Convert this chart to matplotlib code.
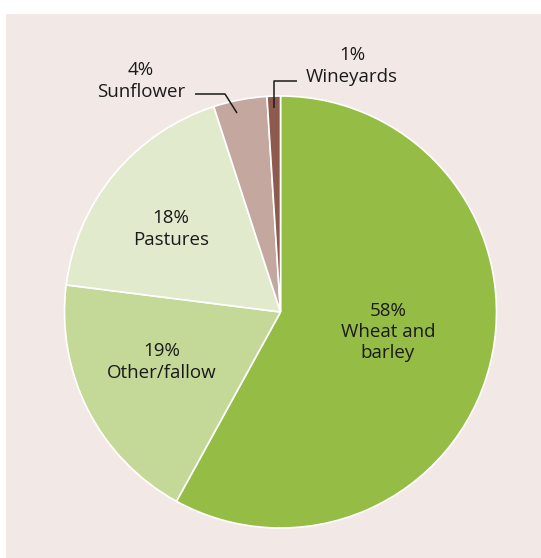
import matplotlib
matplotlib.use("Agg")
import matplotlib.pyplot as plt
from matplotlib.patches import Rectangle

categories = ["Wheat and\nbarley", "Other/fallow", "Pastures", "Sunflower", "Wineyards"]
values = [58, 19, 18, 4, 1]
colors = ["#95bd45", "#c4d897", "#e2eacd", "#c4a8a0", "#8f5a4e"]

W, H = 541, 558
plt.rcParams['font.family'] = ['Open Sans', 'DejaVu Sans']

fig = plt.figure(figsize=(W / 100, H / 100), dpi=100, facecolor="white")
ax = fig.add_axes([0, 0, 1, 1])

def py(y):
    return H - y

ax.add_patch(Rectangle((6, 0), W - 6, H - 14, facecolor="#f2e9e7", edgecolor="none", zorder=0))

wedges, _ = ax.pie(values, colors=colors, startangle=90, counterclock=False,
                   center=(280.5, py(312)), radius=216,
                   wedgeprops=dict(edgecolor="white", linewidth=1.2, zorder=2))
ax.set_xlim(0, W)
ax.set_ylim(0, H)
ax.set_aspect("equal")
ax.axis("off")

labels = [f"{v}%\n{c}" for v, c in zip(values, categories)]
txt_kw = dict(fontsize=13.5, color="#1a1a1a", ha="center", va="center", linespacing=1.25, zorder=5)
ax.text(388, py(332), labels[0], **txt_kw)
ax.text(162, py(362), labels[1], **txt_kw)
ax.text(171, py(229), labels[2], **txt_kw)
ax.text(141, py(81), labels[3], **txt_kw)
ax.text(352, py(66), labels[4], **txt_kw)

lk = dict(color="#1a1a1a", linewidth=1.1, zorder=6, solid_capstyle="butt")
ax.plot([195, 225, 237], [py(94), py(94), py(113)], **lk)
ax.plot([274, 274, 297], [py(108), py(81), py(81)], **lk)

fig.savefig("out.png", dpi=100, facecolor="white")
